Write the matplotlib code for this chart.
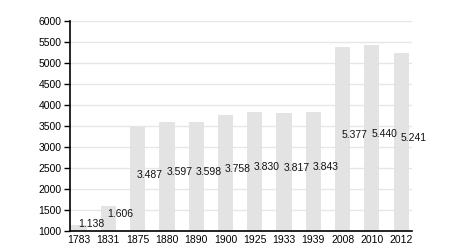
import matplotlib
matplotlib.use('Agg')
import matplotlib.pyplot as plt
import numpy as np

years = ['1783', '1831', '1875', '1880', '1890', '1900', '1925', '1933', '1939', '2008', '2010', '2012']
population = [1138, 1606, 3487, 3597, 3598, 3758, 3830, 3817, 3843, 5377, 5440, 5241]
labels = ['1.138', '1.606', '3.487', '3.597', '3.598', '3.758', '3.830', '3.817', '3.843', '5.377', '5.440', '5.241']

plt.rcParams['font.family'] = ['Liberation Sans', 'DejaVu Sans']

fig = plt.figure(figsize=(4.5, 2.5), dpi=100)
ax = fig.add_axes([70 / 450, 19 / 250, 342 / 450, 210 / 250])

x = np.arange(len(years))
base = 1000
ax.bar(x, np.array(population) - base, bottom=base, width=0.52, color='#e3e3e3', zorder=2)

for xi, val, lab in zip(x, population, labels):
    ax.text(xi + 0.42, (val + base) / 2 + 100, lab, ha='center', va='center',
            fontsize=7.5, color='#111111', zorder=3)

ax.set_ylim(1000, 6000)
ax.set_xlim(-0.31, 11.37)
ax.set_yticks(np.arange(1000, 6001, 500))
ax.set_xticks(x)
ax.set_xticklabels(years)
ax.tick_params(axis='y', labelsize=7.5, length=4, width=1, pad=2)
ax.tick_params(axis='x', labelsize=7.5, length=0, pad=3)
ax.grid(axis='y', color='#e6e6e6', linewidth=1, zorder=0)
ax.set_axisbelow(True)
ax.spines['top'].set_visible(False)
ax.spines['right'].set_visible(False)
ax.spines['left'].set_linewidth(1.2)
ax.spines['bottom'].set_linewidth(1.2)

fig.savefig('out.png', dpi=100)
